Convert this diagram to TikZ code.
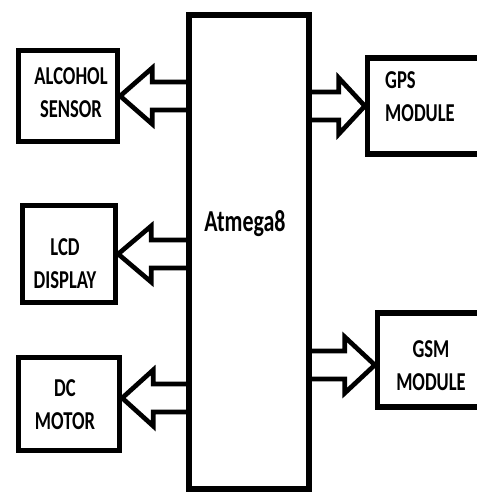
\documentclass[tikz,border=0pt]{standalone}
\usepackage{fontspec}
\setmainfont{Carlito}[FakeStretch=0.72]
\usetikzlibrary{calc}
\tikzset{
  caja/.style={rectangle, draw=black, line width=0.16cm, inner sep=0pt},
  micro/.style={caja, minimum width=3.6cm, minimum height=14.22cm},
  texto/.style={align=center, inner sep=0pt, font=\fontsize{22}{28}\selectfont\bfseries},
  flecha/.style={draw=black, line width=0.14cm, line join=miter}
}
% block arrow: #1 = side of the chip, #2 = tip, #3 = head length
\newcommand{\flechabloque}[3]{%
  \path (#2) ++(#3,-14) coordinate (s1) (#2) ++(#3,14) coordinate (s2);
  \draw[flecha] (s1 -| #1) -- (s1) -- ++(0,-14) -- (#2) -- ++(#3,28) -- (s2) -- (s2 -| #1);
}
\begin{document}
\begin{tikzpicture}[x=0.03cm, y=-0.03cm]

  \useasboundingbox (0,0) rectangle (477,493);
  \clip (0,0) rectangle (477,493);

  % --- Micro ---
  \node[micro] (mcu) at (249,252) {};
  \node[texto, font=\fontsize{26}{30}\selectfont\bfseries] (t-mcu) at (245,224) {Atmega8};

  % --- Salidas izquierda ---
  \node[caja, minimum width=2.97cm, minimum height=2.73cm] (alcohol) at (68,96) {};
  \node[caja, minimum width=2.79cm, minimum height=2.91cm] (lcd) at (69,254) {};
  \node[caja, minimum width=3.03cm, minimum height=2.79cm] (dc) at (69,404) {};
  \node[texto] (t-alcohol) at (71,93) {ALCOHOL\\SENSOR};
  \node[texto] (t-lcd) at (65,264) {LCD\\DISPLAY};
  \node[texto] (t-dc) at (65,405) {DC\\MOTOR};

  % --- Modulos derecha ---
  \node[caja, minimum width=4.5cm, minimum height=2.88cm] (gps) at (442.5,106) {};
  \node[caja, minimum width=4.5cm, minimum height=2.82cm] (gsm) at (452.5,360) {};
  \node[texto, anchor=west, align=left] (t-gps) at (385,97) {GPS\\MODULE};
  \node[texto] (t-gsm) at (431,366) {GSM\\MODULE};

  % --- Flechas ---
  \flechabloque{mcu.west}{alcohol.east}{32}
  \flechabloque{mcu.west}{lcd.east}{33}
  \flechabloque{mcu.west}{$(dc.east)+(0,-6)$}{31}
  \flechabloque{mcu.east}{gps.west}{-26}
  \flechabloque{mcu.east}{$(gsm.west)+(0,5)$}{-30}

\end{tikzpicture}
\end{document}
